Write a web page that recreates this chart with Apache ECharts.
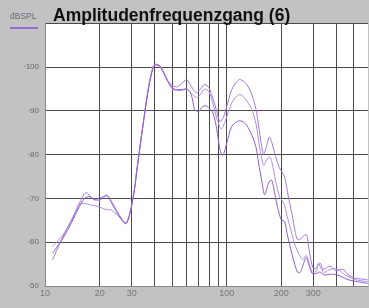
<!DOCTYPE html>
<html><head><meta charset="utf-8">
<script src="https://cdn.jsdelivr.net/npm/echarts@6/dist/echarts.min.js"></script>
<style>html,body{margin:0;padding:0;background:#c2c2c2;}#c{width:369px;height:308px;}</style>
</head><body><div id="c"></div>
<script>
const titleText = 'Amplitudenfrequenzgang (6)';
const yUnit = 'dBSPL';
const xLabelValues = [10, 20, 30, 100, 200, 300];
const xGridValues = [20, 30, 40, 50, 60, 70, 80, 90, 100, 200, 300, 400, 500];

const freqA = [11,12.6,14.3,15.6,16.9,18,18.8,20,21.8,23.2,25.3,27.8,29.3,31,32,33.3,34.7,37,39.4,41,42.8,44.7,47.6,50,52.9,56,60,64,68.2,72,75.7,80,84.2,88,92,96,101,106,112,118,125,131,138,145,150,155,160,166,172,178,186,195,202,208,215,222,230,238,247,256,266,274,285,298,310,322,335,350,370,400,435,465,505,550,600];
const dbA = [56,61.4,65.9,69.2,71.3,70.2,69.6,69.6,70.8,69.3,66.6,64.4,66.6,72,76.4,81.7,87,94.9,100.1,100.6,100.3,99,96.7,95.8,95.4,96,97.1,95.5,94.1,95,96,95.2,92.6,90,87.5,88.5,91.5,94.5,96.3,97.1,96.6,95.6,93.5,90.3,86.5,82.5,80,82,84,82.5,79.5,77,76,75,72,69,66,62.5,60.5,60.8,61.5,61.7,58,54.2,54,55,53.8,54,54.5,53.5,53.8,52.6,51.8,51.6,51.4];

const freqB = [11,12.6,14.3,15.9,17.5,20,21.4,23.2,25.3,27.8,29.3,31,32,33.3,34.7,37,39.4,41,42.8,44.7,47.6,50,52.9,56,60,64,68.2,72,75.7,80,84.2,88,93.5,98,106,112,118,125,131,137,145,150,157,160,165,172,178,186,195,202,208,215,225,235,245,252,262,274,285,298,310,322,331,342,360,390,420,450,505,550,600];
const dbB = [59,61.8,65.5,68.9,68.6,68,67.5,67.3,66,64.3,66.5,71.5,76,81.5,86.8,94.8,100,100.5,100,98.8,96.5,95,94.6,94.6,94.9,94,93,93.8,94.9,94.3,91.5,88.5,85.8,87.5,91.5,93,93.7,93,91.8,90.5,87,83,78.5,77.5,78.5,79.5,78,74,70.5,69.5,68.5,66,63,60,58,57,56,57,55,53.1,53.3,55.3,55,53,53.5,54,53.5,52.5,51.5,51.2,51];

const freqC = [11,12.6,14,15.2,16.5,17.5,18.8,20,21.8,23.2,25.3,27.8,29.3,31,32,33.3,34.7,37,39.4,41,42.8,44.7,47.6,50,52.9,56,60,64,66.7,70,74,77,80,84,88,92,95,100,106,112,118,125,131,138,145,150,156,162,170,176,184,192,200,208,215,225,235,245,252,262,274,285,298,310,325,345,380,420,460,520,600];
const dbC = [57.5,61,64.5,67.5,70,70.4,69.8,70,70.6,69,66.3,64.2,66.4,71.8,76.2,81.6,87,94.7,99.8,100.4,100.2,98.9,96.6,95.3,94.8,94.8,95,93.5,90.2,89.8,91,91.1,90.5,89.5,86,81,79.8,82.5,86.2,87.3,87.7,87.3,86.2,84.3,81.7,78,74,70.8,73.5,74.2,71,67.5,65.1,64.8,62,58.5,55.5,53.2,53,54.5,56.5,54.6,52.8,52.8,53.2,52.5,52.7,52.3,51.5,51,50.6];

function pairs(f, d) { return f.map((v, i) => [v, d[i]]); }

const chart = echarts.init(document.getElementById('c'), null, {renderer: 'canvas'});
const lineSeries = (name, f, d, color) => ({
  name, type: 'line', data: pairs(f, d), showSymbol: false, smooth: 0.3,
  lineStyle: {color, width: 1}, itemStyle: {color}, silent: true
});
chart.setOption({
  backgroundColor: '#c2c2c2',
  animation: false,
  title: {
    text: titleText, left: 48, top: 2,
    textStyle: {fontFamily: 'Liberation Sans', fontSize: 17.5, fontWeight: 'bold', color: '#111'}
  },
  graphic: [
    {type: 'text', left: 10, top: 12, style: {text: yUnit, fontFamily: 'Liberation Sans', fontSize: 8.5, fill: '#6a6a7a'}},
    {type: 'rect', left: 10, top: 27, shape: {width: 28, height: 2}, style: {fill: '#8f6fd6'}}
  ],
  grid: {left: 45, top: 23, right: 1, bottom: 22, show: true, backgroundColor: '#ffffff', borderWidth: 0},
  xAxis: {
    type: 'log', logBase: 10, min: 10, max: 600,
    axisLine: {show: true, lineStyle: {color: '#888', width: 1}},
    axisTick: {show: false, customValues: xGridValues},
    splitLine: {show: true, lineStyle: {color: '#4a4a4a', width: 1}},
    minorSplitLine: {show: false},
    axisLabel: {customValues: xLabelValues, color: '#777', fontSize: 9, fontFamily: 'Liberation Sans', margin: 3,
      formatter: v => String(Math.round(v))}
  },
  yAxis: {
    type: 'value', min: 50, max: 110, interval: 10,
    axisLine: {show: true, lineStyle: {color: '#888', width: 1}},
    axisTick: {show: false},
    splitLine: {show: true, lineStyle: {color: '#4a4a4a', width: 1}},
    axisLabel: {color: '#666', fontSize: 8, fontFamily: 'Liberation Sans', margin: 6,
      formatter: v => v >= 110 ? '' : '\u00b7' + v}
  },
  series: [
    lineSeries('A', freqA, dbA, '#a17ad8'),
    lineSeries('B', freqB, dbB, '#b08ee0'),
    lineSeries('C', freqC, dbC, '#8e5fd0')
  ]
});
</script></body></html>
